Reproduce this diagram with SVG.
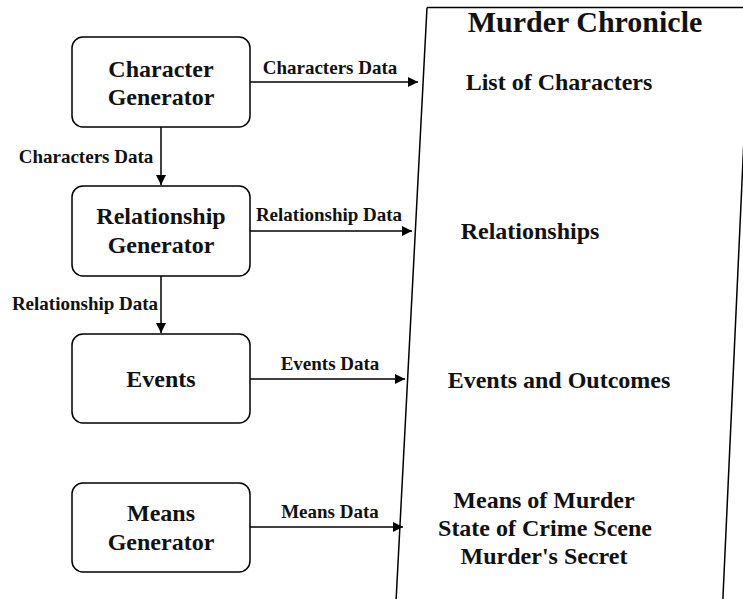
<svg xmlns="http://www.w3.org/2000/svg" width="743" height="599" viewBox="0 0 743 599">
<defs>
<style>
.node{fill:#fff;stroke:#000;stroke-width:1.5}
.big{font-family:"Liberation Serif","Times New Roman",serif;font-weight:bold;font-size:24px;fill:#111;text-anchor:middle}
.lbl{font-family:"Liberation Serif","Times New Roman",serif;font-weight:bold;font-size:19px;fill:#111;text-anchor:middle}
.title{font-family:"Liberation Serif","Times New Roman",serif;font-weight:bold;font-size:30px;fill:#111;text-anchor:middle}
.edge{fill:none;stroke:#000;stroke-width:1.5}
</style>
<marker id="arr" viewBox="0 0 10 10" refX="10" refY="5" markerWidth="10" markerHeight="10" markerUnits="userSpaceOnUse" orient="auto">
<path d="M0,0 L10,5 L0,10 z" fill="#000"/>
</marker>
</defs>
<rect width="743" height="599" fill="#fff"/>

<g id="chronicle">
<path d="M427,7.5 L752,7.5 M427,7.5 L394,640 M750,7.5 L721,640" fill="none" stroke="#000" stroke-width="1.5"/>
<text class="title" x="585" y="32">Murder Chronicle</text>
<text class="big" x="559" y="90">List of Characters</text>
<text class="big" x="530" y="239">Relationships</text>
<text class="big" x="559" y="388">Events and Outcomes</text>
<text class="big" x="544" y="508">Means of Murder</text>
<text class="big" x="545" y="536">State of Crime Scene</text>
<text class="big" x="544" y="564">Murder's Secret</text>
</g>

<g id="character-generator">
<rect class="node" x="72" y="37" width="178" height="90" rx="11"/>
<text class="big" x="161" y="77">Character</text>
<text class="big" x="161" y="105">Generator</text>
</g>
<g id="relationship-generator">
<rect class="node" x="72" y="186" width="178" height="90" rx="11"/>
<text class="big" x="161" y="224">Relationship</text>
<text class="big" x="161" y="253">Generator</text>
</g>
<g id="events">
<rect class="node" x="72" y="334" width="178" height="89" rx="11"/>
<text class="big" x="161" y="387">Events</text>
</g>
<g id="means-generator">
<rect class="node" x="72" y="483" width="178" height="89" rx="11"/>
<text class="big" x="161" y="521">Means</text>
<text class="big" x="161" y="550">Generator</text>
</g>

<g id="connectors">
<path class="edge" d="M250,82 L418,82" marker-end="url(#arr)"/>
<path class="edge" d="M161,127 L161,185" marker-end="url(#arr)"/>
<path class="edge" d="M250,231 L412,231" marker-end="url(#arr)"/>
<path class="edge" d="M161,276 L161,333" marker-end="url(#arr)"/>
<path class="edge" d="M250,379 L405,379" marker-end="url(#arr)"/>
<path class="edge" d="M250,527 L403,527" marker-end="url(#arr)"/>
<text class="lbl" x="330" y="74">Characters Data</text>
<text class="lbl" x="86" y="163">Characters Data</text>
<text class="lbl" x="329" y="221">Relationship Data</text>
<text class="lbl" x="85" y="310">Relationship Data</text>
<text class="lbl" x="330" y="370">Events Data</text>
<text class="lbl" x="330" y="518">Means Data</text>
</g>
</svg>
